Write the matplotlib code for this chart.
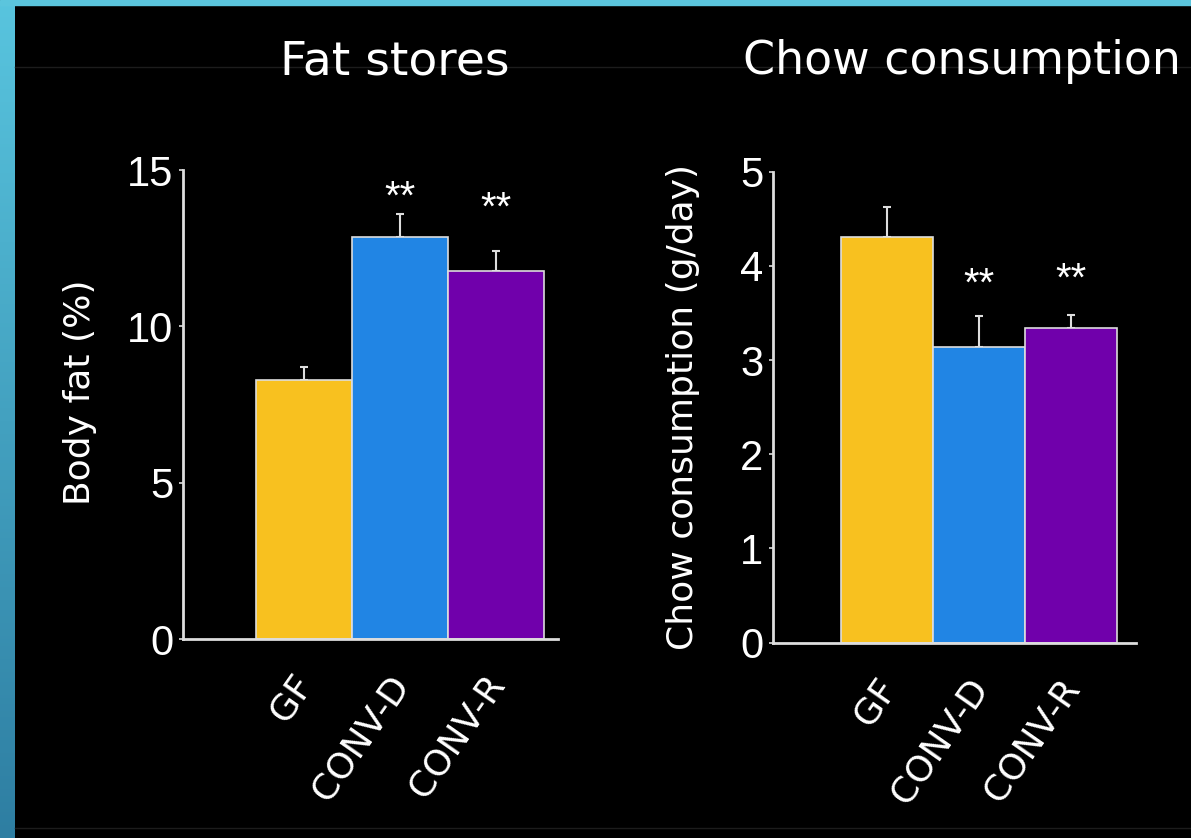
import numpy as np
import matplotlib
matplotlib.use("Agg")
import matplotlib.pyplot as plt
from matplotlib.transforms import ScaledTranslation

# ---- data ----
groups = ["GF", "CONV-D", "CONV-R"]
bar_colors = ["#F8C11F", "#2185E4", "#7000AB"]

fat_values = [8.28, 12.87, 11.77]
fat_err = [0.42, 0.71, 0.64]
fat_sig = ["", "**", "**"]
fat_star_y = [0, 14.1, 13.78]

chow_values = [4.31, 3.14, 3.34]
chow_err = [0.31, 0.33, 0.14]
chow_sig = ["", "**", "**"]
chow_star_y = [0, 3.80, 3.85]

W, H = 1191, 838
fig = plt.figure(figsize=(W / 100, H / 100), dpi=100)
fig.patch.set_facecolor("black")

# slide decoration: cyan top strip and left gradient strip
top = plt.Rectangle((0, 1 - 5 / H), 1, 5 / H, transform=fig.transFigure,
                    color="#5BC5DD", zorder=0)
fig.patches.append(top)
gax = fig.add_axes([0, 0, 15 / W, 1 - 5 / H])
grad = np.linspace(0, 1, 256)[:, None]
c_top = np.array([88, 196, 222]) / 255
c_bot = np.array([46, 126, 162]) / 255
img = c_top[None, None, :] * (1 - grad[..., None]) + c_bot[None, None, :] * grad[..., None]
gax.imshow(img, aspect="auto", extent=[0, 1, 0, 1])
gax.axis("off")
# faint slide lines
fig.add_artist(plt.Line2D([15 / W, 1], [1 - 67 / H, 1 - 67 / H], color="#1c1c1c", lw=1))
fig.add_artist(plt.Line2D([15 / W, 1], [1 - 828 / H, 1 - 828 / H], color="#1c1c1c", lw=1))

label_font = "DejaVu Sans"
tick_font = "Liberation Sans"


def panel(rect, values, errs, sig, star_y, ylim, yticks, xlim, ylabel, ylabel_xy):
    ax = fig.add_axes(rect)
    ax.set_facecolor("black")
    x = np.arange(len(groups))
    ax.bar(x, values, width=1.0, color=bar_colors, edgecolor="#dddddd",
           linewidth=1.2, zorder=2)
    ax.errorbar(x, values, yerr=[np.zeros(len(errs)), errs], fmt="none",
                ecolor="#dddddd", elinewidth=1.5, capsize=3, capthick=1.5, zorder=1)
    for xi, s, sy in zip(x, sig, star_y):
        if s:
            ax.text(xi, sy, s, ha="center", va="center", color="white",
                    fontsize=29, family=tick_font)
    ax.set_xlim(*xlim)
    ax.set_ylim(*ylim)
    ax.set_yticks(yticks)
    ax.set_yticklabels([str(t) for t in yticks], family=tick_font, fontsize=30,
                       color="white")
    ax.set_xticks(x)
    ax.tick_params(axis="x", length=0, pad=20)
    ax.tick_params(axis="y", length=3, width=1.2, color="#dddddd", pad=4)
    ax.set_xticklabels(groups, rotation=55, ha="right", rotation_mode="anchor",
                       family=label_font, fontsize=26, color="white")
    shift = ScaledTranslation(-0.12, -0.02, fig.dpi_scale_trans)
    for lab in ax.get_xticklabels():
        lab.set_transform(lab.get_transform() + shift)
    for sp in ["top", "right"]:
        ax.spines[sp].set_visible(False)
    for sp in ["left", "bottom"]:
        ax.spines[sp].set_color("#dddddd")
        ax.spines[sp].set_linewidth(2)
    ax.set_ylabel(ylabel, family=label_font, fontsize=26, color="white", va="center")
    ax.yaxis.set_label_coords(*ylabel_xy)
    return ax


ax1 = panel([183 / W, 199 / H, 375 / W, 469 / H], fat_values, fat_err, fat_sig,
            fat_star_y, (0, 15), [0, 5, 10, 15], (-1.26, 2.65), "Body fat (%)",
            (-0.275, 0.527))
ax2 = panel([773 / W, 195.3 / H, 363 / W, 471 / H], chow_values, chow_err, chow_sig,
            chow_star_y, (0, 5), [0, 1, 2, 3, 4, 5], (-1.24, 2.71),
            "Chow consumption (g/day)", (-0.248, 0.50))

fig.text(395 / W, 1 - 62 / H, "Fat stores", ha="center", va="center",
         color="white", fontsize=34, family=label_font)
fig.text(962 / W, 1 - 62 / H, "Chow consumption", ha="center", va="center",
         color="white", fontsize=33, family=label_font)

fig.savefig("out.png", dpi=100, facecolor="black")
